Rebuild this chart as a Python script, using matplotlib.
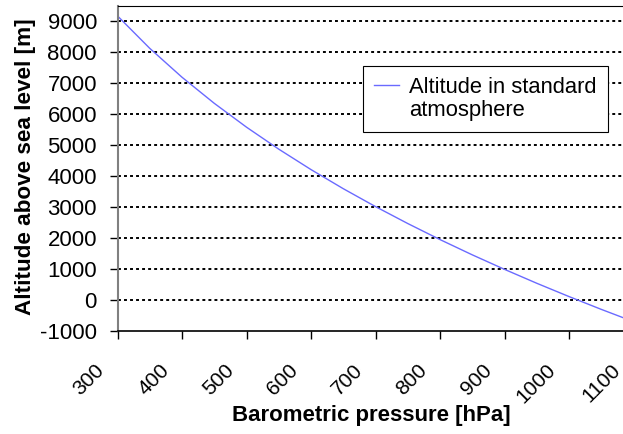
import matplotlib
matplotlib.use("Agg")
import matplotlib.pyplot as plt
from matplotlib.transforms import ScaledTranslation, blended_transform_factory

pressure_hpa = [300, 350, 400, 450, 500, 550, 600, 650, 700, 750, 800, 850, 900, 950, 1000, 1050, 1100]
altitude_m = [9164, 8118, 7186, 6345, 5575, 4866, 4207, 3591, 3013, 2467, 1949, 1457, 989, 540, 111, -302, -698]
x_ticks = [300, 400, 500, 600, 700, 800, 900, 1000, 1100]
y_ticks = list(range(-1000, 10000, 1000))
series_label = "Altitude in standard\natmosphere"

plt.rcParams['font.family'] = ['Liberation Sans', 'DejaVu Sans']
plt.rcParams['axes.unicode_minus'] = False

W, H = 623, 434
fig = plt.figure(figsize=(W / 100, H / 100), dpi=100)
left, right, top, bottom = 117.5, 633.5, 6, 331
ax = fig.add_axes([left / W, 1 - bottom / H, (right - left) / W, (bottom - top) / H])

line1, line2 = series_label.split('\n')
ax.plot(pressure_hpa, altitude_m, color='#6a6aff', lw=1.0, label=line1)
ax.plot([], [], color='none', label=line2)
ax.set_xlim(300, 1100)
ax.set_ylim(-1000, 9000 + 15 / 31 * 1000)
ax.set_xticks(x_ticks)
ax.set_yticks(y_ticks)
for y in y_ticks[1:]:
    ax.axhline(y, color='black', lw=1.4, ls=(0, (1.5, 1.6)), zorder=0)

ax.tick_params(axis='y', direction='out', length=5.8, width=1, labelsize=16, pad=9, color='black')
ax.tick_params(axis='x', direction='out', length=5.8, width=1, labelbottom=False, color='black')

# rotated x tick labels, anchored at the right end of their baseline
base = blended_transform_factory(ax.transData, ax.transAxes)
off = ScaledTranslation(-12 / 100, -40 / 100, fig.dpi_scale_trans)
for v in x_ticks:
    ax.text(v, 0, str(v), transform=base + off, rotation=45, ha='right', va='baseline',
            rotation_mode='anchor', fontsize=15, clip_on=False)

ax.spines['left'].set_color('#808080')
ax.spines['left'].set_linewidth(1.5)
ax.spines['bottom'].set_color('black')
ax.spines['bottom'].set_linewidth(1.2)
ax.spines['top'].set_color('black')
ax.spines['top'].set_linewidth(0.8)
ax.spines['right'].set_visible(False)

ax.set_xlabel('Barometric pressure [hPa]', fontsize=16, fontweight='bold')
ax.set_ylabel('Altitude above sea level [m]', fontsize=16.2, fontweight='bold')
ax.xaxis.set_label_coords((371 - left) / (right - left), (bottom - 405) / (bottom - top))
ax.yaxis.set_label_coords((36 - left) / (right - left), (bottom - 166.5) / (bottom - top))

leg = ax.legend(loc='upper left', bbox_to_anchor=((363 - left) / (right - left), (bottom - 66) / (bottom - top)),
                fontsize=15.8, frameon=True, fancybox=False, edgecolor='black', framealpha=1,
                handlelength=1.15, borderpad=0.5, labelspacing=0.08, handletextpad=0.45, borderaxespad=0)
leg.get_frame().set_linewidth(0.8)

fig.savefig('out.png', dpi=100)
